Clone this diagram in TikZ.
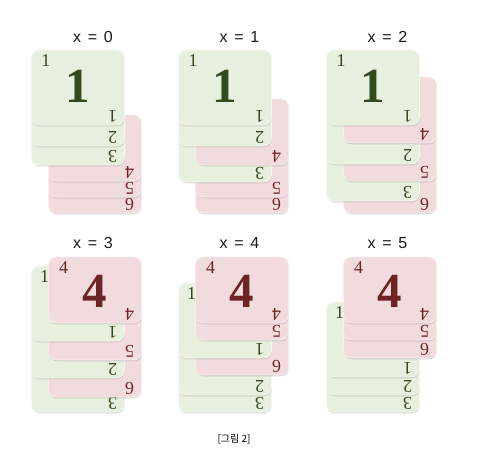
\documentclass[tikz,border=0pt]{standalone}
\usepackage{fontspec}
\setmainfont{Liberation Serif}
\newfontfamily\titlefont{Liberation Sans}
\newfontfamily\krfont{Noto Sans CJK KR}
\usetikzlibrary{shadows}
\definecolor{gfill}{RGB}{231,239,222}
\definecolor{gedge}{RGB}{244,248,238}
\definecolor{gtext}{RGB}{50,74,30}
\definecolor{pfill}{RGB}{242,219,221}
\definecolor{pedge}{RGB}{250,236,238}
\definecolor{ptext}{RGB}{108,36,36}
\tikzset{
  cardbase/.style={line width=0.8pt, rounded corners=8pt,
    drop shadow={shadow xshift=0.3pt, shadow yshift=-1.3pt, opacity=0.28, fill=black!55}},
  gcard/.style={cardbase, fill=gfill, draw=gedge},
  pcard/.style={cardbase, fill=pfill, draw=pedge},
  corner/.style={inner sep=0pt, font=\fontsize{18}{18}\selectfont},
  bignum/.style={inner sep=0pt, font=\fontsize{49}{49}\selectfont\bfseries},
  title/.style={inner sep=0pt, font=\titlefont\fontsize{16}{16}\selectfont, text=black!90},
}
\newcommand\ttl[1]{x\hspace{0.42em}=\hspace{0.42em}#1}
% green card: label, left, top (bottom-right label only)
\newcommand\cardG[3]{%
  \draw[gcard] (#2,#3) rectangle ++(93,75);
  \node[corner, text=gtext, rotate=180] at (#2+81,#3+66) {#1};
}
% pink card: label, left (of the green column), top
\newcommand\cardP[3]{%
  \draw[pcard] (#2+17,#3) rectangle ++(93,66);
  \node[corner, text=ptext, rotate=180] at (#2+98,#3+57) {#1};
}
\begin{document}
\begin{tikzpicture}[x=1pt,y=-1pt]
\useasboundingbox[fill=white] (0,0) rectangle (504,464);
% ---------- x = 0 ----------
\node[title] (t0) at (93,37) {\ttl{0}};
\cardP{6}{31.5}{147}
\cardP{5}{31.5}{131}
\cardP{4}{31.5}{115}
\cardG{3}{31.5}{90}
\cardG{2}{31.5}{71}
\cardG{1}{31.5}{50}
\node[corner, text=gtext] (c0) at (31.5+14.5,50+10.5) {1};
\node[bignum, text=gtext] (b0) at (31.5+46.5,50+36) {1};
% ---------- x = 1 ----------
\node[title] (t1) at (239.5,37) {\ttl{1}};
\cardP{6}{178.5}{147}
\cardP{5}{178.5}{131}
\cardG{3}{178.5}{107}
\cardP{4}{178.5}{99}
\cardG{2}{178.5}{71}
\cardG{1}{178.5}{50}
\node[corner, text=gtext] (c1) at (178.5+14.5,50+10.5) {1};
\node[bignum, text=gtext] (b1) at (178.5+46.5,50+36) {1};
% ---------- x = 2 ----------
\node[title] (t2) at (387.5,37) {\ttl{2}};
\cardP{6}{326.5}{147}
\cardG{3}{326.5}{126}
\cardP{5}{326.5}{115}
\cardG{2}{326.5}{89}
\cardP{4}{326.5}{77}
\cardG{1}{326.5}{50}
\node[corner, text=gtext] (c2) at (326.5+14.5,50+10.5) {1};
\node[bignum, text=gtext] (b2) at (326.5+46.5,50+36) {1};
% ---------- x = 3 ----------
\node[title] (t3) at (93,243) {\ttl{3}};
\cardG{3}{31.5}{337}
\cardP{6}{31.5}{331}
\cardG{2}{31.5}{303}
\cardP{5}{31.5}{294}
\cardG{1}{31.5}{266}
\node[corner, text=gtext] (g3) at (31.5+13,266+10.5) {1};
\cardP{4}{31.5}{257}
\node[corner, text=ptext] (c3) at (31.5+32,257+10.5) {4};
\node[bignum, text=ptext] (b3) at (31.5+17+46.5,257+34) {4};
% ---------- x = 4 ----------
\node[title] (t4) at (239.5,243) {\ttl{4}};
\cardG{3}{178.5}{337}
\cardG{2}{178.5}{320}
\cardP{6}{178.5}{309}
\cardG{1}{178.5}{283}
\node[corner, text=gtext] (g4) at (178.5+13,283+10.5) {1};
\cardP{5}{178.5}{274}
\cardP{4}{178.5}{257}
\node[corner, text=ptext] (c4) at (178.5+32,257+10.5) {4};
\node[bignum, text=ptext] (b4) at (178.5+17+46.5,257+34) {4};
% ---------- x = 5 ----------
\node[title] (t5) at (387.5,243) {\ttl{5}};
\cardG{3}{326.5}{337}
\cardG{2}{326.5}{320}
\cardG{1}{326.5}{302}
\node[corner, text=gtext] (g5) at (326.5+13,302+10.5) {1};
\cardP{6}{326.5}{292}
\cardP{5}{326.5}{274}
\cardP{4}{326.5}{257}
\node[corner, text=ptext] (c5) at (326.5+32,257+10.5) {4};
\node[bignum, text=ptext] (b5) at (326.5+17+46.5,257+34) {4};
% caption
\node[inner sep=0pt, font=\krfont\fontsize{10}{10}\selectfont] (cap) at (234,439) {[그림 2]};
\end{tikzpicture}
\end{document}
